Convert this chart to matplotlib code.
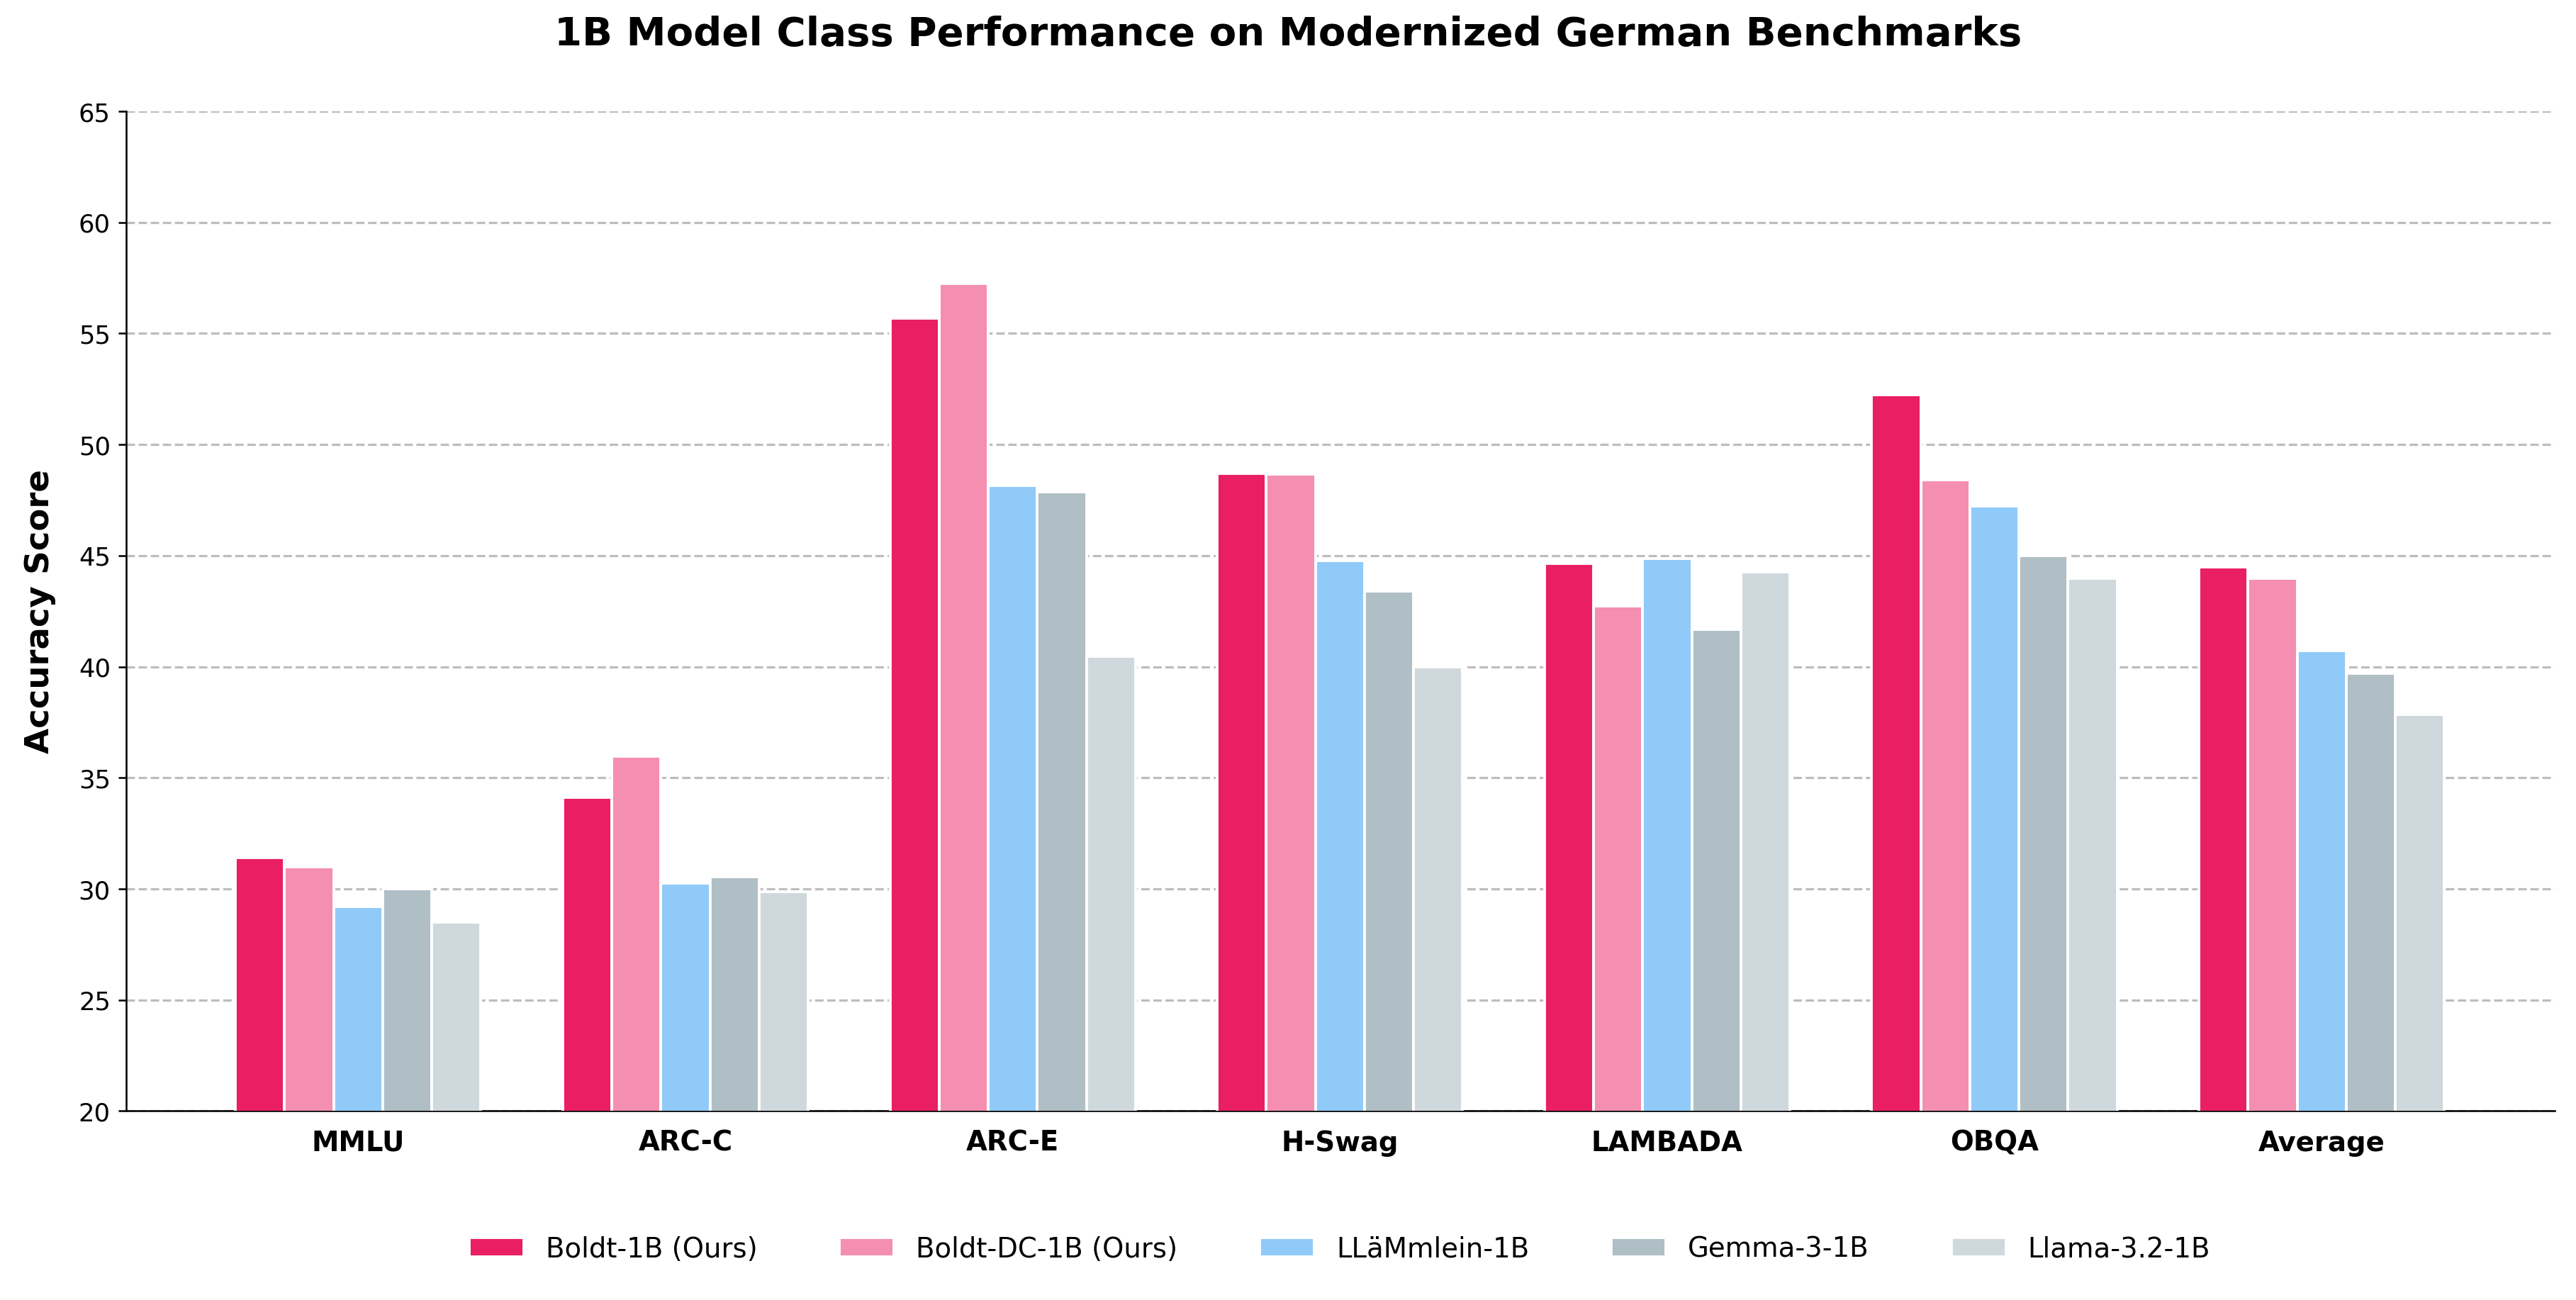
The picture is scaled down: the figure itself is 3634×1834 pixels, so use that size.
import matplotlib
matplotlib.use("Agg")
import matplotlib.pyplot as plt
import numpy as np

categories = ["MMLU", "ARC-C", "ARC-E", "H-Swag", "LAMBADA", "OBQA", "Average"]
models = ["Boldt-1B (Ours)", "Boldt-DC-1B (Ours)", "LLäMmlein-1B", "Gemma-3-1B", "Llama-3.2-1B"]
boldt = [31.4, 34.1, 55.7, 48.7, 44.65, 52.25, 44.47]
boldt_dc = [31.0, 35.95, 57.24, 48.66, 42.74, 48.42, 43.98]
llammlein = [29.2, 30.24, 48.14, 44.76, 44.86, 47.22, 40.73]
gemma = [30.0, 30.53, 47.86, 43.39, 41.66, 45.0, 39.71]
llama = [28.5, 29.86, 40.45, 40.0, 44.25, 43.98, 37.86]
series = [boldt, boldt_dc, llammlein, gemma, llama]
colors = ["#E91E63", "#F48FB1", "#90CAF9", "#B0BEC5", "#CFD8DC"]

fig = plt.figure(figsize=(15.7, 7.925), dpi=231.5)
ax = fig.add_axes([77/1568, 1-676/791, (1555-77)/1568, (676-68)/791])
x = np.arange(len(categories))
w = 0.15
for i, (vals, c, m) in enumerate(zip(series, colors, models)):
    ax.bar(x + (i - 2) * w, vals, w, color=c, edgecolor="white", linewidth=1.2, label=m, zorder=3)

ax.set_ylim(20, 65)
ax.set_xlim(-0.708, 6.713)
ax.set_yticks(range(20, 66, 5))
ax.tick_params(axis="y", labelsize=11)
ax.set_xticks(x)
ax.set_xticklabels(categories, fontsize=12, fontweight="bold")
ax.tick_params(axis="x", length=0, pad=8)
ax.yaxis.grid(True, linestyle="--", color="#BDBDBD", linewidth=1, zorder=0)
ax.set_axisbelow(True)
for s in ["top", "right"]:
    ax.spines[s].set_visible(False)
ax.set_ylabel("Accuracy Score", fontsize=14.5, fontweight="bold", labelpad=10)
fig.suptitle("1B Model Class Performance on Modernized German Benchmarks", fontsize=17.5, fontweight="bold", y=0.988)
fig.legend(loc="lower center", ncol=5, frameon=False, fontsize=12, bbox_to_anchor=(0.52, 0.01), columnspacing=3)
fig.savefig("out.png", dpi=231.5)
